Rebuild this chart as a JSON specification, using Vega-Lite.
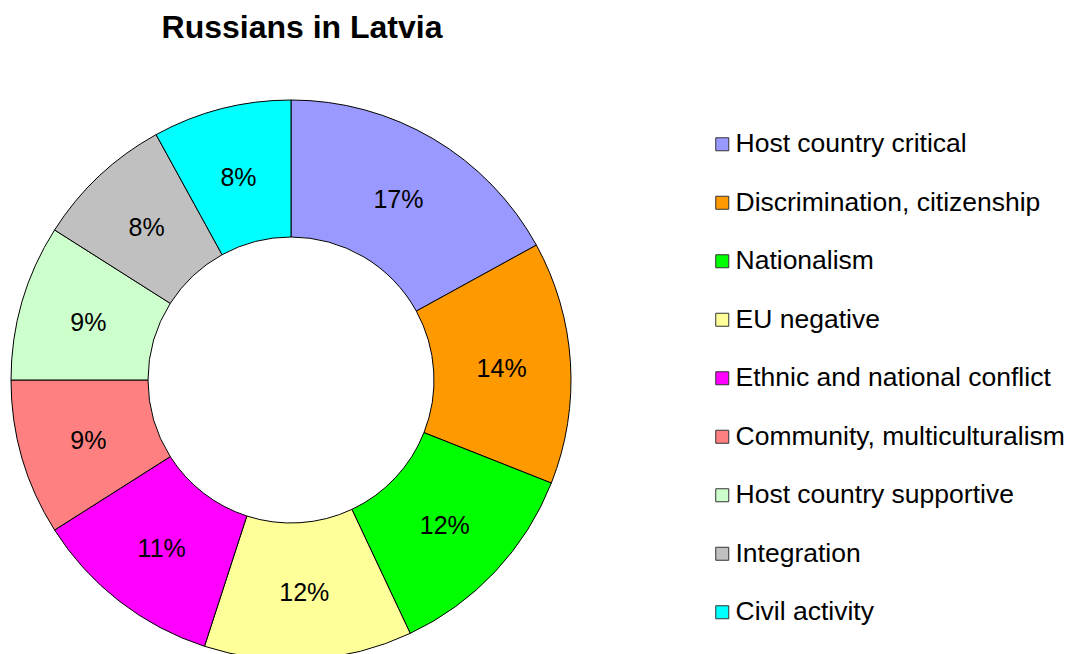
{
  "$schema": "https://vega.github.io/schema/vega-lite/v6.json",
  "width": 582,
  "height": 560,
  "autosize": {"type": "none"},
  "padding": {"left": 0, "top": 100, "right": 487, "bottom": 0},
  "background": "white",
  "title": {
    "text": "Russians in Latvia",
    "font": "Liberation Sans",
    "fontSize": 32,
    "fontWeight": "bold",
    "color": "black",
    "anchor": "middle",
    "frame": "group",
    "baseline": "alphabetic",
    "offset": 28,
    "dx": 11
  },
  "data": {
    "values": [
      {"idx": 1, "category": "Host country critical", "value": 17, "label": "17%"},
      {"idx": 2, "category": "Discrimination, citizenship", "value": 14, "label": "14%"},
      {"idx": 3, "category": "Nationalism", "value": 12, "label": "12%"},
      {"idx": 4, "category": "EU negative", "value": 12, "label": "12%"},
      {"idx": 5, "category": "Ethnic and national conflict", "value": 11, "label": "11%"},
      {"idx": 6, "category": "Community, multiculturalism", "value": 9, "label": "9%"},
      {"idx": 7, "category": "Host country supportive", "value": 9, "label": "9%"},
      {"idx": 8, "category": "Integration", "value": 8, "label": "8%"},
      {"idx": 9, "category": "Civil activity", "value": 8, "label": "8%"}
    ]
  },
  "encoding": {
    "theta": {"field": "value", "type": "quantitative", "stack": true},
    "order": {"field": "idx", "type": "quantitative"}
  },
  "layer": [
    {
      "mark": {"type": "arc", "outerRadius": 280, "innerRadius": 143, "stroke": "black", "strokeWidth": 1},
      "encoding": {
        "color": {
          "field": "category",
          "type": "nominal",
          "scale": {
            "domain": ["Host country critical", "Discrimination, citizenship", "Nationalism", "EU negative", "Ethnic and national conflict", "Community, multiculturalism", "Host country supportive", "Integration", "Civil activity"],
            "range": ["#9999FF", "#FF9900", "#00FF00", "#FFFF99", "#FF00FF", "#FF8080", "#CCFFCC", "#C0C0C0", "#00FFFF"]
          },
          "legend": {
            "title": null,
            "orient": "none",
            "legendX": 709,
            "legendY": 31,
            "padding": 0,
            "symbolType": "square",
            "symbolSize": 169,
            "symbolStrokeColor": "#333333",
            "symbolStrokeWidth": 1,
            "symbolOpacity": 1,
            "labelFont": "Liberation Sans",
            "labelFontSize": 26.5,
            "labelColor": "black",
            "labelOffset": 0,
            "labelLimit": 400,
            "rowPadding": 31.5
          }
        }
      }
    },
    {
      "mark": {"type": "text", "radius": 211, "font": "Liberation Sans", "fontSize": 25, "color": "black", "dy": 2},
      "encoding": {
        "text": {"field": "label", "type": "nominal"}
      }
    }
  ],
  "config": {"view": {"stroke": null}}
}
